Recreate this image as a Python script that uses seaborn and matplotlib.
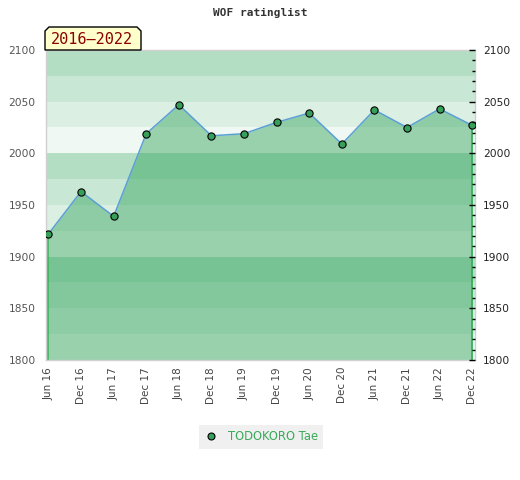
import pandas as pd
import matplotlib
matplotlib.use("Agg")
import matplotlib.pyplot as plt
from matplotlib.lines import Line2D
from matplotlib.patches import Polygon
from matplotlib.ticker import MultipleLocator
import seaborn as sns

periods = ["Jun 16", "Dec 16", "Jun 17", "Dec 17", "Jun 18", "Dec 18", "Jun 19",
           "Dec 19", "Jun 20", "Dec 20", "Jun 21", "Dec 21", "Jun 22", "Dec 22"]
ratings = [1922, 1963, 1939, 2019, 2047, 2017, 2019,
           2030, 2039, 2009, 2042, 2025, 2043, 2027]
player = "TODOKORO Tae"
title = "WOF ratinglist"
span_label = "2016\u20132022"

y_min, y_max = 1800, 2100
band_colors = ["#b3dec3", "#c8e7d4", "#dbefe2", "#eff8f2"]
fill_color = "#36a55f"
line_color = "#5b9fd6"
marker_color = "#36a05a"
drop_color = "#2fae55"

df = pd.DataFrame({"pos": range(len(periods)), "rating": ratings})

sns.set_style("white")
plt.rcParams["font.family"] = ["DejaVu Sans"]

W, H = 520, 480
fig = plt.figure(figsize=(W / 100, H / 100), dpi=100)
ax = fig.add_axes([45.5 / W, 1 - 360 / H, (475 - 45.5) / W, 310 / H])

# background bands, 25 points each, cycling every 100
for i, y0 in enumerate(range(y_max, y_min, -25)):
    ax.axhspan(y0 - 25, y0, color=band_colors[i % 4], lw=0, zorder=0)

ax.fill_between(df["pos"], df["rating"], y_min, color=fill_color, alpha=0.47, lw=0, zorder=1)
ax.vlines([df["pos"].iloc[0], df["pos"].iloc[-1]], y_min,
          [df["rating"].iloc[0], df["rating"].iloc[-1]], color=drop_color, lw=1.2, zorder=2)

sns.lineplot(data=df, x="pos", y="rating", ax=ax, color=line_color, lw=1.1,
             marker="o", markersize=5.2, markerfacecolor=marker_color,
             markeredgecolor="black", markeredgewidth=0.8, zorder=3)

ax.set_xlim(-0.09, len(periods) - 1 + 0.085)
ax.set_ylim(y_min, y_max)
ax.set_xlabel("")
ax.set_ylabel("")
ax.set_xticks(df["pos"])
ax.set_xticklabels(periods, rotation=90, fontsize=7.5, color="#444444")
ax.yaxis.set_major_locator(MultipleLocator(50))
ax.tick_params(axis="x", length=0, pad=5)
ax.tick_params(axis="y", length=0, pad=7, labelsize=7.7, labelcolor="#555555")
for s in ax.spines.values():
    s.set_color("#d0d0d0")
    s.set_linewidth(1)

ax2 = ax.twinx()
ax2.set_ylim(y_min, y_max)
ax2.yaxis.set_major_locator(MultipleLocator(50))
ax2.yaxis.set_minor_locator(MultipleLocator(10))
ax2.tick_params(axis="y", which="major", direction="in", length=4.5, width=1,
                color="black", pad=6, labelsize=7.7, labelcolor="#222222")
ax2.tick_params(axis="y", which="minor", direction="in", length=2.5, width=1, color="black")
for s in ax2.spines.values():
    s.set_visible(False)

fig.text(0.5, 1 - 13 / H, title, ha="center", va="center", fontsize=8,
         family="DejaVu Sans Mono", weight="bold", color="#333333")

# period badge
pts = [(45, 50), (45, 31), (49, 27), (137, 27), (141, 31), (141, 50)]
badge = Polygon([(x / W, 1 - y / H) for x, y in pts], closed=True,
                transform=fig.transFigure, facecolor="#ffffcc", edgecolor="black",
                lw=1, zorder=10)
fig.patches.append(badge)
fig.text(92 / W, 1 - 39.5 / H, span_label, ha="center", va="center", fontsize=11,
         family="DejaVu Sans Mono", color="#8b0000", zorder=11)

handle = Line2D([], [], ls="none", marker="o", markersize=5,
                markerfacecolor=marker_color, markeredgecolor="black", markeredgewidth=0.8)
fig.legend([handle], [player], loc="center", bbox_to_anchor=(261 / W, 1 - 437 / H),
           frameon=True, facecolor="#f0f0f0", edgecolor="none", framealpha=1,
           fancybox=False, fontsize=8.3, labelcolor="#3aaa5a", handlelength=1.2,
           handletextpad=0.9, borderpad=0.45)

fig.savefig("out.png", dpi=100)
